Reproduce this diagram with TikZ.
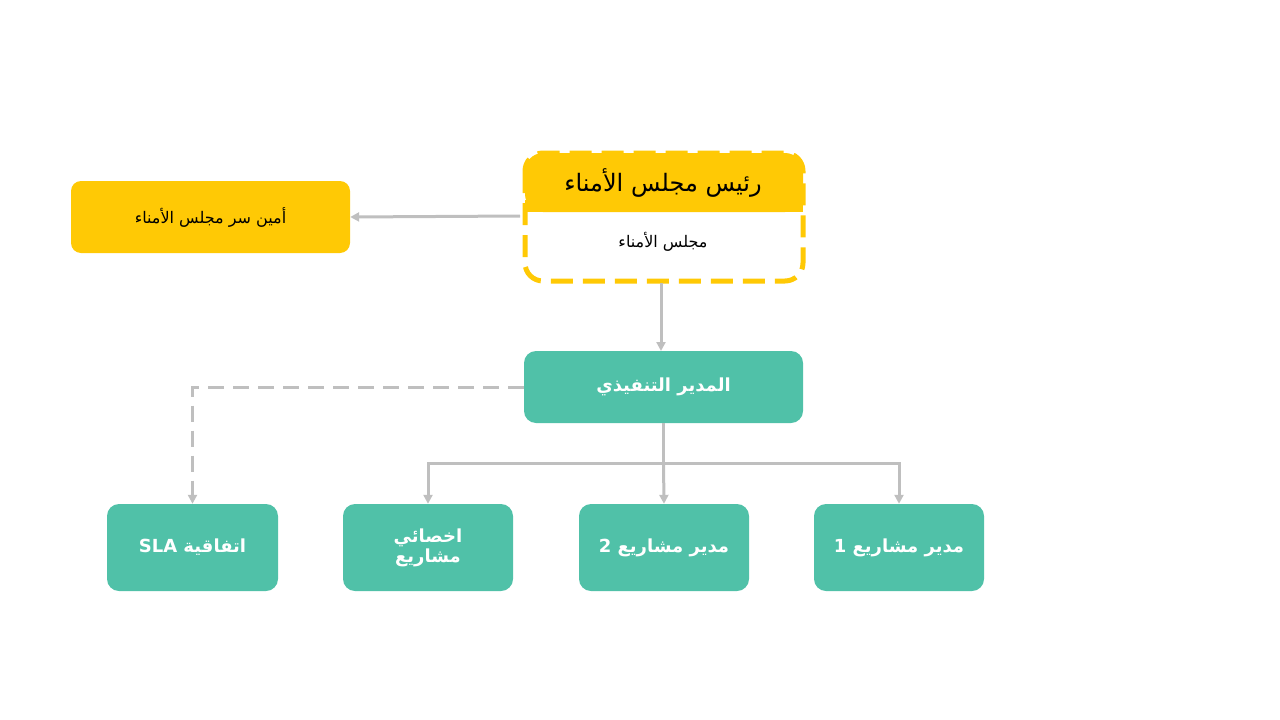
\documentclass[tikz,border=0pt]{standalone}
\usepackage{fontspec}
\newfontfamily\arabicfont[Script=Arabic]{DejaVu Sans}
\TeXXeTstate=1
\usetikzlibrary{arrows.meta}
\definecolor{ylw}{HTML}{FFC905}
\definecolor{grn}{HTML}{50C1A8}
\definecolor{gry}{HTML}{BFBFBF}
\tikzset{
  ybox/.style={fill=ylw,rounded corners=10pt,minimum width=279pt,minimum height=72pt,font=\arabicfont\fontsize{16}{20}\selectfont},
  gbox/.style={fill=grn,rounded corners=12pt,text=white,font=\arabicfont\bfseries\fontsize{18}{24}\selectfont,align=center},
  conn/.style={draw=gry,line width=3pt,-{Triangle[length=9pt,width=9pt]}},
}
\begin{document}
\begin{tikzpicture}[x=1pt,y=-1pt]
\useasboundingbox (0,0) rectangle (1280,720);
% top dashed box
\fill[ylw,rounded corners=18pt] (525,212) -- (525,153) -- (803,153) -- (803,212) -- cycle;
\fill[ylw] (525,200) rectangle (803,212);
\draw[ylw,line width=5pt,rounded corners=18pt,dash pattern=on 22pt off 10pt] (525,153) rectangle (803,281);
\node (chair) at (663,183) {\arabicfont\fontsize{24}{28}\selectfont\beginR رئيس مجلس الأمناء\endR};
\node (board) at (663,242) {\arabicfont\fontsize{16}{20}\selectfont\beginR مجلس  الأمناء\endR};
\coordinate (topL) at (520,216);
\coordinate (topB) at (661,283);
% secretary
\node[ybox] (sec) at (210.5,217) {\beginR أمين سر مجلس الأمناء\endR};
\draw[conn] (topL) -- (sec.east);
% CEO
\node[gbox,minimum width=279pt,minimum height=72pt] (ceo) at (663.5,387) {\beginR المدير التنفيذي\endR};
\draw[conn] (topB) -- (661,351);
% bottom
\node[gbox,minimum width=171pt,minimum height=87pt] (sla) at (192.5,547.5) {\beginR اتفاقية \beginL SLA\endL\endR};
\node[gbox,minimum width=170pt,minimum height=87pt] (spec) at (428,547.5) {\beginR اخصائي\endR\\[-4pt]\beginR مشاريع\endR};
\node[gbox,minimum width=170pt,minimum height=87pt] (pm2) at (664,547.5) {\beginR مدير مشاريع \beginL 2\endL\endR};
\node[gbox,minimum width=170pt,minimum height=87pt] (pm1) at (899,547.5) {\beginR مدير مشاريع \beginL 1\endL\endR};
\coordinate (j) at (663.5,463);
\draw[gry,line width=3pt] (ceo.south) -- (j);
\draw[conn] (j) -| (spec.north);
\draw[conn] (j) -| (pm1.north);
\draw[conn] (j) -- (pm2.north);
\draw[conn,dash pattern=on 16pt off 9pt] (ceo.west) -| (sla.north);
\end{tikzpicture}
\end{document}
